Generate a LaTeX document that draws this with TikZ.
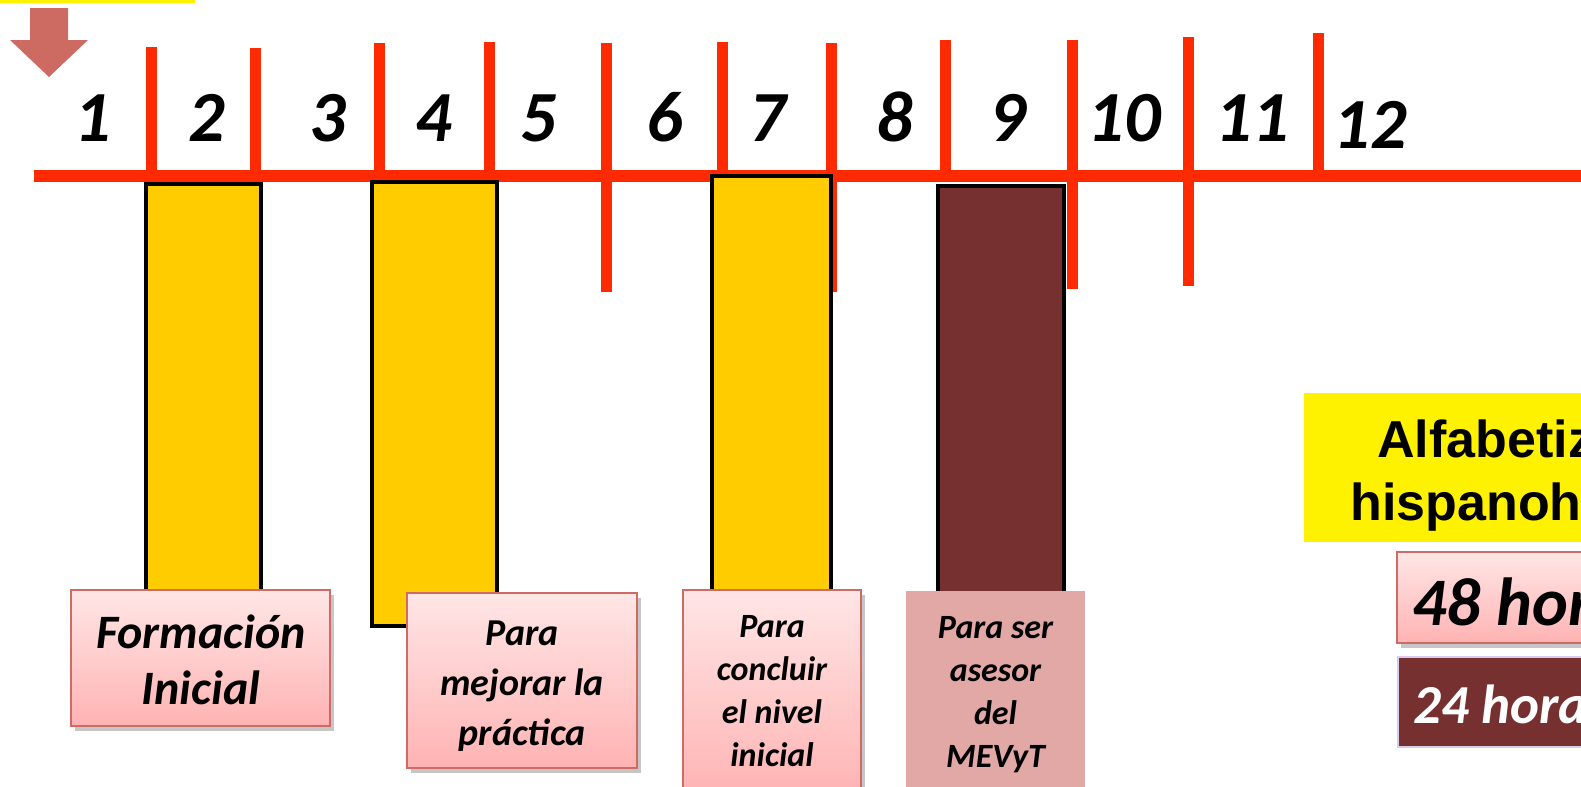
\documentclass[tikz,border=0pt]{standalone}
\usepackage{fontspec}
\setmainfont{Carlito}
\newfontfamily\arialfont{Liberation Sans}
\usetikzlibrary{shadows}
\definecolor{tlred}{HTML}{FF2A00}
\definecolor{baryellow}{HTML}{FFCC00}
\definecolor{barbrown}{HTML}{773030}
\definecolor{pinktop}{HTML}{FFE6E6}
\definecolor{pinkbot}{HTML}{FFB3B3}
\definecolor{pinkedge}{HTML}{D06A64}
\definecolor{pinksolid}{HTML}{E1A8A5}
\definecolor{arrowred}{HTML}{CD6A62}
\definecolor{lavender}{HTML}{D9CCEB}
\tikzset{
  tick/.style={draw=tlred, line width=5.5pt},
  timeline/.style={draw=tlred, line width=6pt},
  num/.style={anchor=base, inner sep=0pt, font=\bfseries\itshape\fontsize{36}{40}\selectfont},
  barbox/.style={draw=black, line width=2pt},
  pinkbox/.style={draw=pinkedge, line width=1pt, top color=pinktop, bottom color=pinkbot,
     drop shadow={shadow xshift=2pt, shadow yshift=-2.5pt, opacity=0.45},
     inner sep=0pt, align=center},
  solidbox/.style={fill=pinksolid, inner sep=0pt, align=center},
  boxtext/.style={inner sep=0pt, align=center},
}
\begin{document}
\begin{tikzpicture}[x=0.5pt,y=-0.5pt]
\path[use as bounding box] (0,0) rectangle (1581,787);
\clip (0,0) rectangle (1581,787);
% top yellow strip and arrow
\fill[yellow] (0,0) rectangle (195,2.5);
\fill[arrowred] (30,8) -- (68,8) -- (68,40) -- (88,40) -- (49,77) -- (10,40) -- (30,40) -- cycle;
% ticks
\draw[tick] (151,47) -- (151,176);
\draw[tick] (255,48) -- (255,176);
\draw[tick] (379,43) -- (379,176);
\draw[tick] (489,42) -- (489,176);
\draw[tick] (606,43) -- (606,292);
\draw[tick] (722,42) -- (722,176);
\draw[tick] (831,43) -- (831,292);
\draw[tick] (945,40) -- (945,176);
\draw[tick] (1072,40) -- (1072,289);
\draw[tick] (1188,37) -- (1188,286);
\draw[tick] (1318,33) -- (1318,176);
\draw[timeline] (34,176) -- (1581,176);
% numbers
\node[num] (n1) at (93,141) {1};
\node[num] (n2) at (207,141) {2};
\node[num] (n3) at (328,141) {3};
\node[num] (n4) at (434,141) {4};
\node[num] (n5) at (539,141) {5};
\node[num] (n6) at (665,141) {6};
\node[num] (n7) at (768,141) {7};
\node[num] (n8) at (895,141) {8};
\node[num] (n9) at (1008,141) {9};
\node[num] (n10) at (1124,141) {10};
\node[num] (n11) at (1252,141) {11};
\node[num] (n12) at (1370,148) {12};
% bars
\draw[barbox, fill=baryellow] (146,184) rectangle (261,620);
\draw[barbox, fill=baryellow] (372,182) rectangle (497,626);
\draw[barbox, fill=baryellow] (712,176) rectangle (831,620);
\draw[barbox, fill=barbrown] (938,186) rectangle (1064,620);
% labels
\node[pinkbox, minimum width=129.5pt, minimum height=68pt] (p1) at (200.5,658) {};
\node[boxtext, font=\bfseries\itshape\fontsize{24}{28}\selectfont] (p1t) at (201,660) {Formación\\Inicial};
\node[pinkbox, minimum width=115pt, minimum height=87.5pt] (p2) at (522,680.5) {};
\node[boxtext, font=\bfseries\itshape\fontsize{19}{25}\selectfont] (p2t) at (522,686) {Para\\mejorar la\\práctica};
\node[pinkbox, minimum width=89pt, minimum height=102pt] (p3) at (772,692) {};
\node[boxtext, font=\bfseries\itshape\fontsize{17}{21.5}\selectfont] (p3t) at (772,691) {Para\\concluir\\el nivel\\inicial};
\node[solidbox, minimum width=89.5pt, minimum height=101pt] (p4) at (995.5,692) {};
\node[boxtext, font=\bfseries\itshape\fontsize{17}{21.5}\selectfont] (p4t) at (995.5,695) {Para ser\\asesor\\del\\MEVyT};
% right legend
\fill[yellow] (1304,393) rectangle (1600,542);
\node[anchor=base west, inner sep=0pt, font=\arialfont\bfseries\fontsize{26}{30}\selectfont] (t1) at (1377,457) {Alfabetiz};
\node[anchor=base west, inner sep=0pt, font=\arialfont\bfseries\fontsize{26}{30}\selectfont] (t2) at (1350,520) {hispanoh};
\draw[draw=pinkedge, line width=1pt, top color=pinktop, bottom color=pinkbot,
  drop shadow={shadow xshift=2pt, shadow yshift=-2.5pt, opacity=0.45}] (1397,552) rectangle (1620,643);
\node[anchor=base west, inner sep=0pt, font=\bfseries\itshape\fontsize{34}{40}\selectfont] (h48) at (1412,625) {48 hor};
\draw[draw=lavender, line width=1pt, fill=barbrown] (1398,657) rectangle (1620,747);
\node[anchor=base west, inner sep=0pt, text=white, font=\bfseries\itshape\fontsize{27.5}{32}\selectfont] (h24) at (1413,723) {24 hora};
\end{tikzpicture}
\end{document}
